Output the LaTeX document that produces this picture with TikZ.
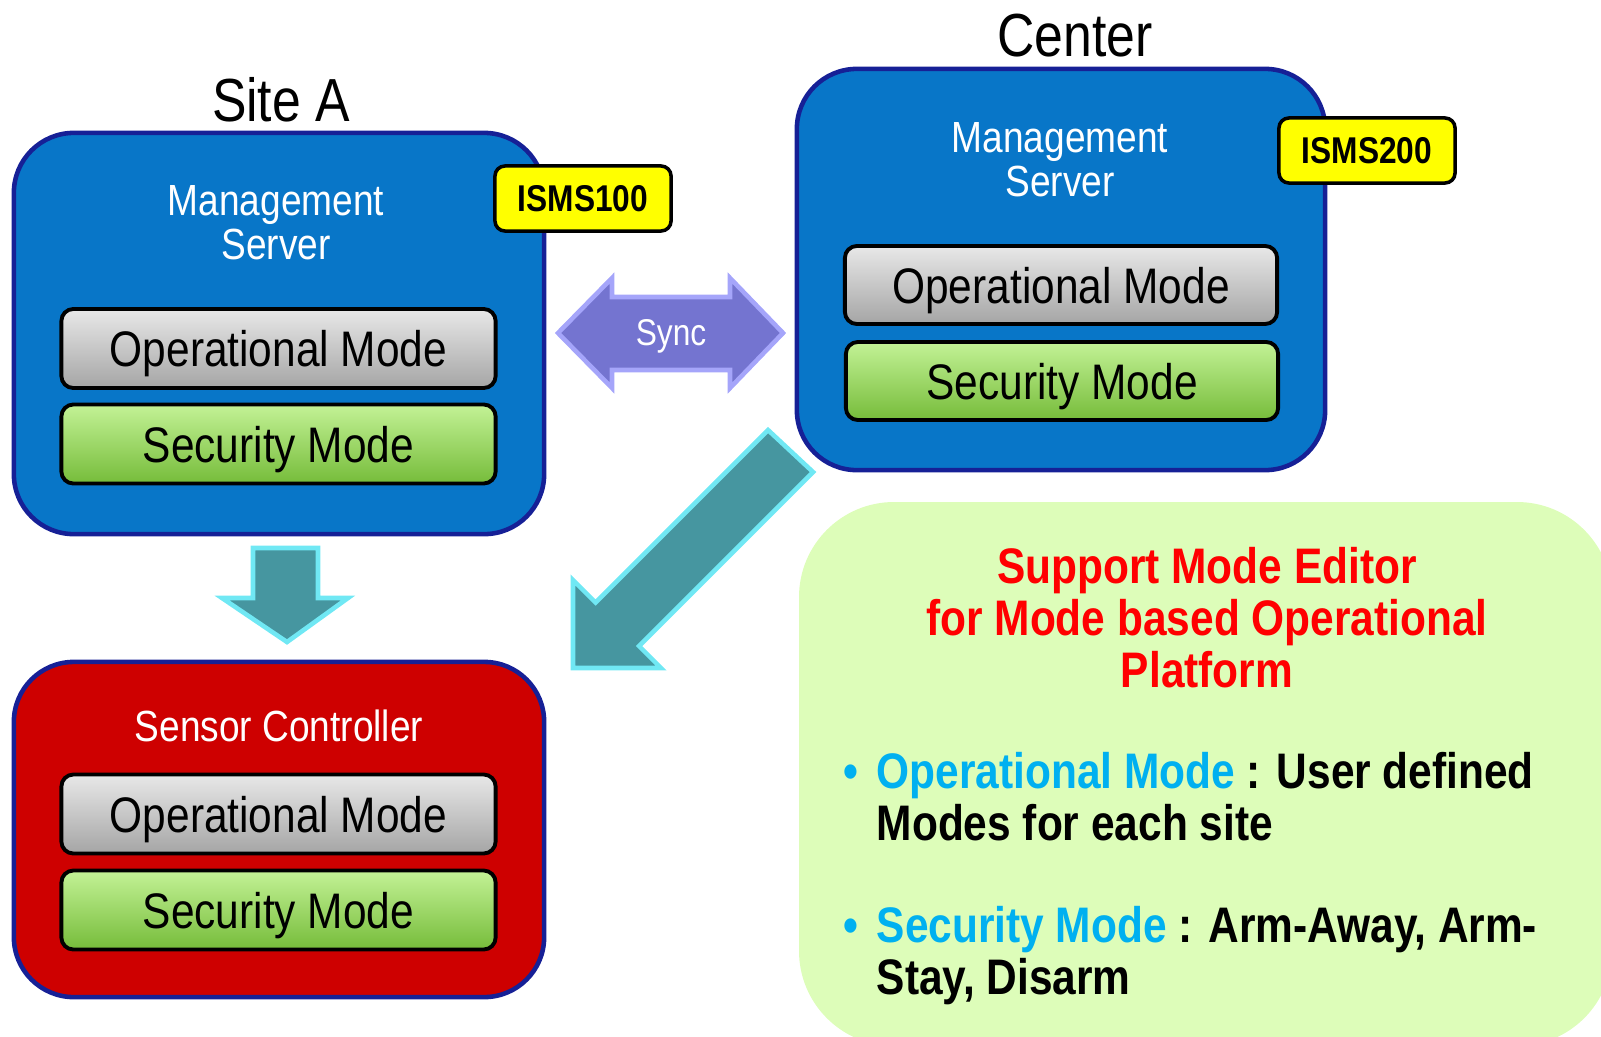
\documentclass[tikz,border=0pt]{standalone}
\usepackage{fontspec}
\setmainfont{Liberation Sans}[FakeStretch=0.85]
\usepackage{tikz}
\usetikzlibrary{calc}
\definecolor{boxblue}{RGB}{8,118,200}
\definecolor{navyrim}{RGB}{22,32,150}
\definecolor{boxred}{RGB}{206,0,0}
\definecolor{graytop}{RGB}{232,232,232}
\definecolor{graymid}{RGB}{192,192,192}
\definecolor{graybot}{RGB}{165,165,165}
\definecolor{greentop}{RGB}{195,242,150}
\definecolor{greenmid}{RGB}{152,220,82}
\definecolor{greenbot}{RGB}{118,188,58}
\definecolor{tagyellow}{RGB}{255,255,0}
\definecolor{notegreen}{RGB}{221,253,185}
\definecolor{headred}{RGB}{255,0,0}
\definecolor{bulletcyan}{RGB}{0,176,240}
\definecolor{tealfill}{RGB}{70,150,160}
\definecolor{tealrim}{RGB}{112,232,244}
\definecolor{syncfill}{RGB}{116,116,208}
\definecolor{syncrim}{RGB}{165,165,250}

\begin{document}
\begin{tikzpicture}[x=0.01cm, y=-0.01cm,
    site/.style={draw=navyrim, line width=1.3pt, rounded corners=0.6cm, minimum width=5.3cm, inner sep=0pt},
    modebox/.style={draw=black, line width=1.1pt, rounded corners=0.12cm, minimum width=4.34cm, minimum height=0.79cm, inner sep=0pt, text depth=0pt, font=\fontsize{14.2}{15}\selectfont},
    opmode/.style={modebox, top color=graytop, middle color=graymid, bottom color=graybot},
    secmode/.style={modebox, top color=greentop, middle color=greenmid, bottom color=greenbot},
    tag/.style={draw=black, line width=1pt, fill=tagyellow, rounded corners=0.1cm, minimum width=1.76cm, minimum height=0.65cm, inner sep=0pt, font=\bfseries\fontsize{10.6}{12}\selectfont},
    title/.style={inner sep=0pt, font=\fontsize{17.3}{18}\selectfont},
    label/.style={inner sep=0pt, text=white, align=center, font=\fontsize{12.4}{12.5}\selectfont},
    blockarrow/.style={fill=tealfill, draw=tealrim, line width=1.3pt, line join=miter},
    notetext/.style={inner sep=0pt, font=\bfseries\fontsize{14.2}{15}\selectfont}]
  \clip (0,0) rectangle (1601,1036);

  % callout on the lower right
  \fill[notegreen, rounded corners=0.95cm] (799,502) rectangle (1612,1046);

  % site A
  \node[title, anchor=base] (siteA) at (281,121) {Site A};
  \node[site, fill=boxblue, minimum height=4.01cm] (srvA) at (279,333.5) {};
  \node[label] (mgmtA) at (276,223) {Management\\Server};
  \node[tag] (ismsA) at (583,198.5) {ISMS100};
  \node[opmode] (opA) at (278.5,348.5) {Operational Mode};
  \node[secmode] (secA) at (278.5,444) {Security Mode};

  % center
  \node[title, anchor=base] (ctr) at (1075,56) {Center};
  \node[site, fill=boxblue, minimum width=5.28cm, minimum height=4.01cm] (srvC) at (1061,269.5) {};
  \node[label] (mgmtC) at (1060,160) {Management\\Server};
  \node[tag] (ismsC) at (1367,150.5) {ISMS200};
  \node[opmode, minimum width=4.32cm, minimum height=0.78cm] (opC) at (1061,285) {Operational Mode};
  \node[secmode, minimum width=4.32cm, minimum height=0.78cm] (secC) at (1062,381) {Security Mode};

  % sensor controller
  \node[site, fill=boxred, minimum height=3.35cm] (sens) at (279,829.5) {};
  \node[label] (sensT) at (279,726) {Sensor Controller};
  \node[opmode] (opS) at (278.5,814) {Operational Mode};
  \node[secmode] (secS) at (278.5,910) {Security Mode};

  % sync arrow
  \draw[fill=syncfill, draw=syncrim, line width=1.3pt, line join=miter] (558,333) -- (612,278) -- (612,297) -- (730,297) -- (730,278) -- (783,333) -- (730,388) -- (730,370) -- (612,370) -- (612,388) -- cycle;
  \node[label, font=\fontsize{10.6}{12}\selectfont] (sync) at (671,336) {Sync};

  % push arrows
  \draw[blockarrow] (253,548) -- (318,548) -- (318,598) -- (348,598) -- (287,642) -- (222,598) -- (253,598) -- cycle;
  \draw[blockarrow] (768,430) -- (813,472) -- (639,646) -- (661,668) -- (573,668) -- (573,580) -- (595.5,602.5) -- cycle;

  % callout text
  \node[notetext, text=headred, anchor=base] (hd1) at (1207,583) {Support Mode Editor};
  \node[notetext, text=headred, anchor=base] (hd2) at (1207,635) {for Mode based Operational};
  \node[notetext, text=headred, anchor=base] (hd3) at (1207,687) {Platform};
  \node[notetext, text=bulletcyan, anchor=base west] (dot1) at (843,788) {\textbullet};
  \node[notetext, anchor=base west] (op1) at (876,788) {\textcolor{bulletcyan}{Operational Mode} : User defined};
  \node[notetext, anchor=base west] (op2) at (876,840) {Modes for each site};
  \node[notetext, text=bulletcyan, anchor=base west] (dot2) at (843,942) {\textbullet};
  \node[notetext, anchor=base west] (sd1) at (876,942) {\textcolor{bulletcyan}{Security Mode} : Arm-Away, Arm-};
  \node[notetext, anchor=base west] (sd2) at (876,994) {Stay, Disarm};
\end{tikzpicture}
\end{document}
